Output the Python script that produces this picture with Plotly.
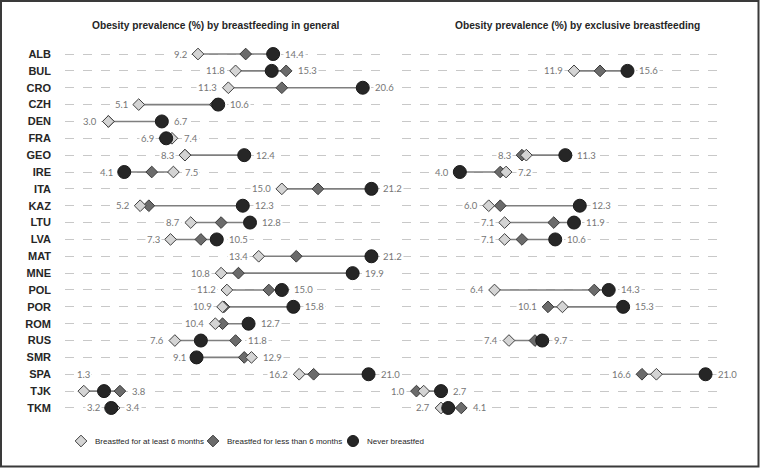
import plotly.graph_objects as go

countries = ["ALB", "BUL", "CRO", "CZH", "DEN", "FRA", "GEO", "IRE", "ITA", "KAZ", "LTU",
             "LVA", "MAT", "MNE", "POL", "POR", "ROM", "RUS", "SMR", "SPA", "TJK", "TKM"]

# Obesity prevalence (%) by breastfeeding in general
gen_6m_plus = [9.2, 11.8, 11.3, 5.1, 3.0, 7.4, 8.3, 7.5, 15.0, 5.2, 8.7,
               7.3, 13.4, 10.8, 11.2, 10.9, 10.4, 7.6, 12.9, 16.2, 1.3, 3.4]
gen_lt_6m = [12.5, 15.3, 15.0, 10.4, 3.0, 6.9, 8.3, 6.0, 17.5, 5.8, 10.8,
             9.4, 16.0, 12.0, 14.1, 11.0, 10.9, 11.8, 12.4, 17.2, 3.8, 3.3]
gen_never = [14.4, 14.3, 20.6, 10.6, 6.7, 7.0, 12.4, 4.1, 21.2, 12.3, 12.8,
             10.5, 21.2, 19.9, 15.0, 15.8, 12.7, 9.4, 9.1, 21.0, 2.7, 3.2]

# Obesity prevalence (%) by exclusive breastfeeding
exc_6m_plus = [None, 11.9, None, None, None, None, 8.6, 7.2, None, 6.0, 7.1,
               7.1, None, None, 6.4, 11.1, None, 7.4, None, 17.6, 1.5, 2.7]
exc_lt_6m = [None, 13.7, None, None, None, None, 8.3, 6.8, None, 6.8, 10.5,
             8.3, None, None, 13.3, 10.1, None, 9.2, None, 16.6, 1.0, 4.1]
exc_never = [None, 15.6, None, None, None, None, 11.3, 4.0, None, 12.3, 11.9,
             10.6, None, None, 14.3, 15.3, None, 9.7, None, 21.0, 2.7, 3.2]

titles = ["Obesity prevalence (%) by breastfeeding in general",
          "Obesity prevalence (%) by exclusive breastfeeding"]
legend_names = ["Breastfed for at least 6 months", "Breastfed for less than 6 months", "Never breastfed"]

W, H = 761, 468
SANS = "Liberation Sans, Arial, sans-serif"
LABELF = "Lato, Carlito, Calibri, sans-serif"

light_m = dict(symbol="diamond", size=9, color="#d4d4d4", line=dict(color="#404040", width=1))
dark_m = dict(symbol="diamond", size=9, color="#6b6b6b", line=dict(color="#3a3a3a", width=1))
circ_m = dict(symbol="circle", size=13, color="#262626", line=dict(color="#1a1a1a", width=1))

fig = go.Figure()
annotations = []


def px2x(p):
    return p / W


def px2y(p):
    return 1 - p / H


panels = [("x", "y", gen_6m_plus, gen_lt_6m, gen_never),
          ("x2", "y2", exc_6m_plus, exc_lt_6m, exc_never)]

lab_font = dict(family=LABELF, size=9.5, color="#767676")
lab_common = dict(showarrow=False, yanchor="middle", font=lab_font, bgcolor="white", borderpad=1)

for xr, yr, a, b, c in panels:
    lx, ly = [], []
    ends = []
    for i in range(len(countries)):
        vals = [v for v in (a[i], b[i], c[i]) if v is not None]
        if not vals:
            continue
        lo, hi = min(vals), max(vals)
        lx += [lo, hi, None]
        ly += [i, i, None]
        ends.append((i, lo, hi))
    fig.add_trace(go.Scatter(x=lx, y=ly, xaxis=xr, yaxis=yr, mode="lines",
                             line=dict(color="#7f7f7f", width=1.6), showlegend=False,
                             hoverinfo="skip"))
    idx = list(range(len(countries)))
    fig.add_trace(go.Scatter(x=b, y=idx, xaxis=xr, yaxis=yr, mode="markers", marker=dark_m, showlegend=False))
    fig.add_trace(go.Scatter(x=a, y=idx, xaxis=xr, yaxis=yr, mode="markers", marker=light_m, showlegend=False))
    fig.add_trace(go.Scatter(x=c, y=idx, xaxis=xr, yaxis=yr, mode="markers", marker=circ_m, showlegend=False))
    for i, lo, hi in ends:
        if xr == "x" and countries[i] == "TJK":
            # in the original this label sits one row above
            annotations.append(dict(lab_common, x=lo, y=i - 1, xref=xr, yref=yr, text=f"{lo:.1f}",
                                    xanchor="center"))
        else:
            annotations.append(dict(lab_common, x=lo, y=i, xref=xr, yref=yr, text=f"{lo:.1f}",
                                    xanchor="right", xshift=-9))
        annotations.append(dict(lab_common, x=hi, y=i, xref=xr, yref=yr, text=f"{hi:.1f}",
                                xanchor="left", xshift=10))

# legend (manual)
leg_x = [81, 213, 353]
leg_text_x = [93, 225, 365]
leg_y = 441
for k, m in enumerate([light_m, dark_m, circ_m]):
    mm = dict(m)
    if k == 2:
        mm = dict(m, size=11)
    fig.add_trace(go.Scatter(x=[px2x(leg_x[k])], y=[px2y(leg_y)], xaxis="x3", yaxis="y3",
                             mode="markers", marker=mm, showlegend=False, hoverinfo="skip"))
    annotations.append(dict(x=px2x(leg_text_x[k]), y=px2y(leg_y), xref="paper", yref="paper",
                            text=legend_names[k], showarrow=False, xanchor="left", yanchor="middle",
                            font=dict(family=SANS, size=8, color="#262626")))

annotations.append(dict(x=px2x(216), y=px2y(25), xref="paper", yref="paper", text=titles[0],
                        showarrow=False, xanchor="center", yanchor="middle",
                        font=dict(family=SANS, size=10.2, color="#262626", weight="bold")))
annotations.append(dict(x=px2x(577), y=px2y(25), xref="paper", yref="paper", text=titles[1],
                        showarrow=False, xanchor="center", yanchor="middle",
                        font=dict(family=SANS, size=10.2, color="#262626", weight="bold")))

ydom = [px2y(416.4), px2y(45.6)]
yax = dict(domain=ydom, range=[21.5, -0.5], tickmode="array", tickvals=list(range(len(countries))),
           showgrid=True, gridcolor="#c8c8c8", griddash="dash", gridwidth=1,
           zeroline=False, showline=False, ticks="")
xax = dict(range=[0, 22], showgrid=False, zeroline=False, showticklabels=False, showline=False, ticks="")

fig.update_layout(
    width=W, height=H, margin=dict(l=0, r=0, t=0, b=0),
    paper_bgcolor="white", plot_bgcolor="rgba(0,0,0,0)",
    xaxis=dict(xax, domain=[px2x(65), px2x(383)], anchor="y"),
    xaxis2=dict(xax, domain=[px2x(402), px2x(720)], anchor="y2"),
    yaxis=dict(yax, anchor="x", ticktext=countries, ticklabelstandoff=13,
               tickfont=dict(family=SANS, size=11, color="#262626", weight="bold")),
    yaxis2=dict(yax, anchor="x2", showticklabels=False),
    xaxis3=dict(domain=[0, 1], range=[0, 1], visible=False, anchor="y3"),
    yaxis3=dict(domain=[0, 1], range=[0, 1], visible=False, anchor="x3"),
    annotations=annotations,
    shapes=[dict(type="rect", xref="paper", yref="paper", x0=px2x(1), x1=px2x(758.5),
                 y0=px2y(466.5), y1=px2y(1), line=dict(color="#3a3a3a", width=2))],
    showlegend=False,
)

fig.write_html("out.html", config={"displayModeBar": False},
               post_script="document.body.style.margin='0';document.body.style.overflow='hidden';")
